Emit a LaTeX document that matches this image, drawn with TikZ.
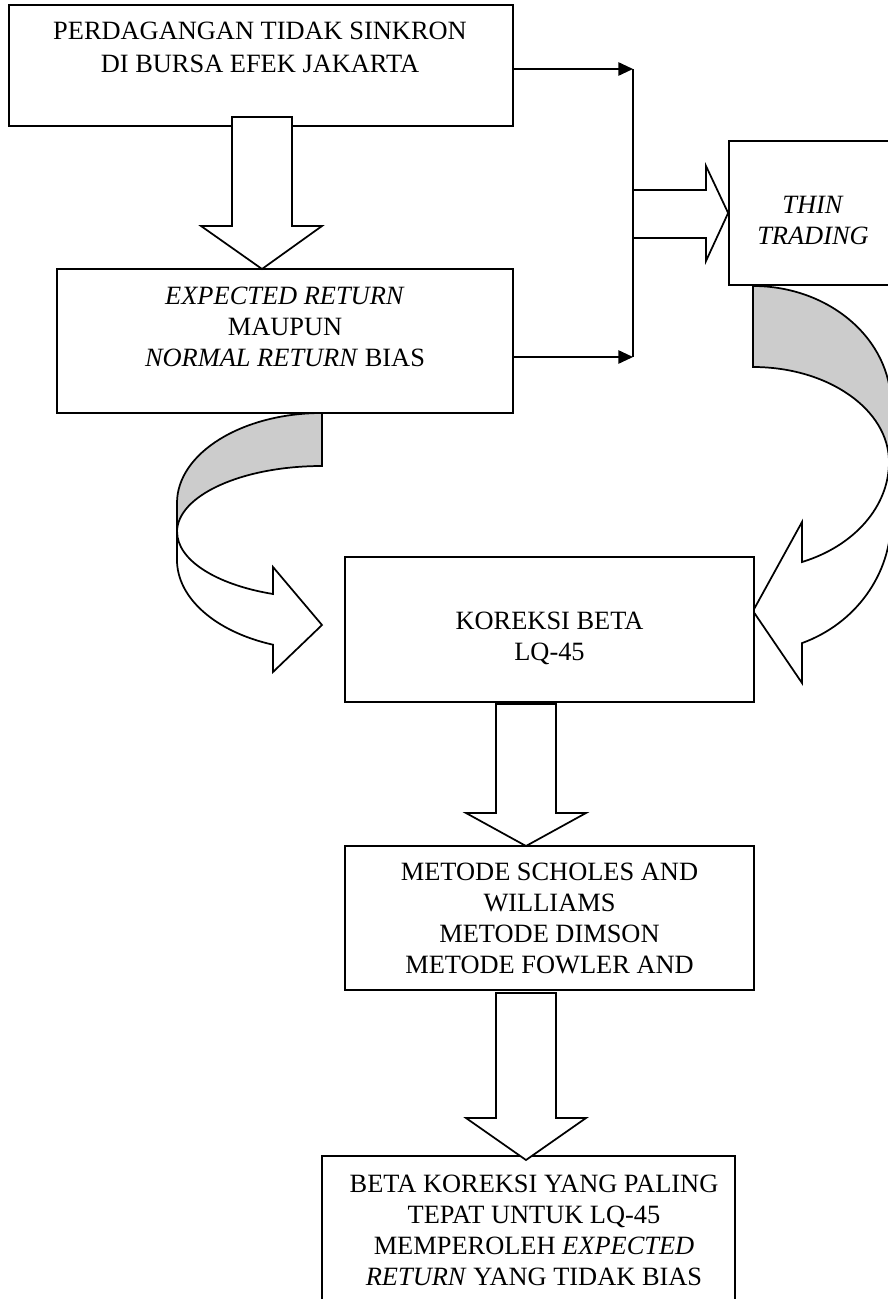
\documentclass[tikz,border=0pt]{standalone}
\usepackage{fontspec}
\setmainfont{Liberation Serif}
\usetikzlibrary{arrows.meta}

\begin{document}
\begin{tikzpicture}[x=0.75pt,y=0.75pt,yscale=-1,xscale=1,
  box/.style={draw, line width=1.3pt, fill=white, inner sep=0pt},
  txt/.style={anchor=north, inner sep=0pt, align=center, font=\fontsize{19.8}{23.2}\selectfont},
  blockarr/.style={draw, line width=1.3pt, fill=white, line join=miter},
  backband/.style={draw, line width=1.3pt, fill=black!20},
  tipline/.style={line width=1.3pt, -{Triangle[length=11pt,width=10pt]}}]
\useasboundingbox (0,0) rectangle (888,1299);

%Curved Arrow: left [back part]
\draw[backband] (322,413) arc[start angle=-90, end angle=-180, x radius=145, y radius=90] -- (177,532) arc[start angle=180, end angle=270, x radius=145, y radius=66] -- cycle ;
%Curved Arrow: left [front part]
\draw[blockarr] (177,532) -- (177,560) arc[start angle=180, end angle=109.8, x radius=145, y radius=90] -- (273,672) -- (322,625) -- (273,567) -- (273,594) arc[start angle=109.8, end angle=180, x radius=145, y radius=66] -- cycle ;

%Curved Arrow: right [back part]
\draw[backband] (753,286) arc[start angle=-90, end angle=0, x radius=138, y radius=118.5] -- (891,462) -- (889,462) arc[start angle=0, end angle=-90, x radius=136, y radius=95] -- cycle ;
%Curved Arrow: right [front part]
\draw[blockarr] (889,462) -- (891,462) -- (891,519.7) arc[start angle=0, end angle=69.2, x radius=138, y radius=132] -- (802,683) -- (753,611) -- (802,522) -- (802,562) arc[start angle=68.88, end angle=0, x radius=136, y radius=107.2] -- cycle ;

%Shape: Rectangle [perdagangan]
\node[box, minimum width=378pt, minimum height=90.75pt] (perd) at (261,65.5) {};
%Shape: Rectangle [expected return]
\node[box, minimum width=342pt, minimum height=108pt] (expd) at (285,341) {};
%Shape: Rectangle [thin trading]
\node[box, minimum width=126pt, minimum height=108pt] (thin) at (813,213) {};
%Shape: Rectangle [koreksi beta]
\node[box, minimum width=306.75pt, minimum height=108.75pt] (kor) at (549.5,629.5) {};
%Shape: Rectangle [metode]
\node[box, minimum width=306.75pt, minimum height=108pt] (met) at (549.5,918) {};
%Shape: Rectangle [beta koreksi]
\node[box, minimum width=309.75pt, minimum height=142.5pt] (beta) at (528.5,1251) {};

%Down Arrow
\draw[blockarr] (232,117) -- (232,226) -- (201,226) -- (262,269) -- (322,226) -- (292,226) -- (292,117) -- cycle ;
%Down Arrow
\draw[blockarr] (496,704) -- (496,813) -- (466,813) -- (526,846) -- (586,813) -- (556,813) -- (556,704) -- cycle ;
%Down Arrow
\draw[blockarr] (496,993) -- (496,1118) -- (466,1118) -- (526,1160) -- (586,1118) -- (556,1118) -- (556,993) -- cycle ;

%Straight Lines with arrows
\coordinate (jtop) at (633,69);
\coordinate (jbot) at (633,357);
\draw[tipline] (perd.east |- jtop) -- (jtop) ;
\draw[tipline] (expd.east |- jbot) -- (jbot) ;
%Right Arrow
\draw[blockarr] (633,190) -- (706,190) -- (706,166) -- (thin.west) -- (706,261) -- (706,238) -- (633,238) ;
\draw[line width=1.3pt] (jtop) -- (jbot) ;

% Text Node
\node[txt, font=\fontsize{19.8}{24.75}\selectfont] (perdT) at (260,22) {PERDAGANGAN TIDAK SINKRON\\DI BURSA EFEK JAKARTA};
% Text Node
\node[txt] (expdT) at (285,287) {\textit{EXPECTED RETURN}\\MAUPUN\\\textit{NORMAL RETURN} BIAS};
% Text Node
\node[txt] (thinT) at (813,196) {\textit{THIN}\\\textit{TRADING}};
% Text Node
\node[txt] (korT) at (549.5,612) {KOREKSI BETA\\LQ-45};
% Text Node
\node[txt] (metT) at (549.5,863) {METODE SCHOLES AND\\WILLIAMS\\METODE DIMSON\\METODE FOWLER AND};
% Text Node
\node[txt] (betaT) at (534,1175) {BETA KOREKSI YANG PALING\\TEPAT UNTUK LQ-45\\MEMPEROLEH \textit{EXPECTED}\\\textit{RETURN} YANG TIDAK BIAS};

\end{tikzpicture}
\end{document}
